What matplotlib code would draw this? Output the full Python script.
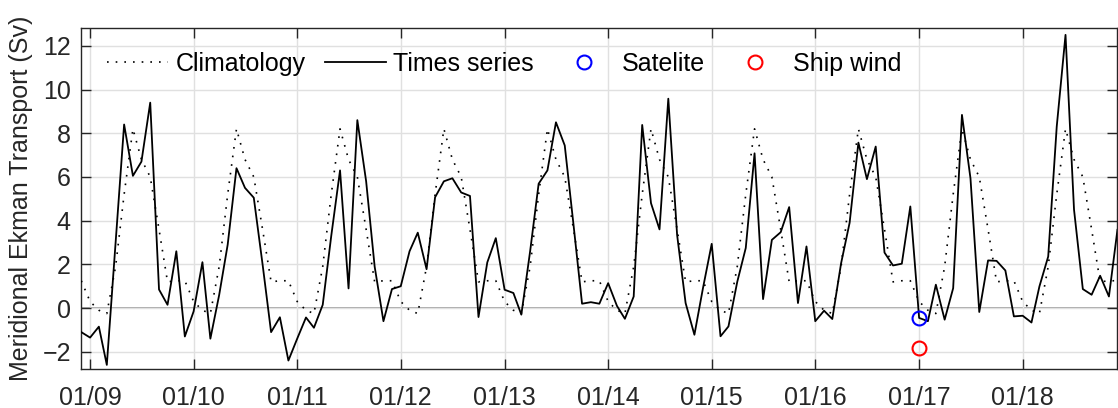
import numpy as np
import pandas as pd
import matplotlib
matplotlib.use("Agg")
import matplotlib.pyplot as plt
import matplotlib.dates as mdates

plt.rcParams['font.family'] = ['Liberation Sans', 'DejaVu Sans']

# Monthly dates Dec 2008 .. Dec 2018
dates = pd.date_range("2008-12-01", "2018-12-01", freq="MS")

# Monthly time series (Sv)
series = [
    -1.1,
    -1.35, -0.85, -2.6, 3.0, 8.4, 6.05, 6.7, 9.4, 0.85, 0.15, 2.6, -1.3,
    -0.15, 2.1, -1.4, 0.6, 2.9, 6.4, 5.5, 5.05, 2.0, -1.1, -0.42, -2.4,
    -1.4, -0.43, -0.9, 0.15, 3.3, 6.3, 0.9, 8.6, 5.8, 1.9, -0.6, 0.87,
    1.0, 2.6, 3.45, 1.78, 5.07, 5.8, 5.94, 5.29, 5.13, -0.41, 2.09, 3.2,
    0.84, 0.69, -0.3, 2.6, 5.69, 6.3, 8.5, 7.44, 3.8, 0.2, 0.27, 0.2,
    1.14, 0.1, -0.49, 0.53, 8.38, 4.8, 3.6, 9.58, 3.35, 0.23, -1.22, 0.9,
    2.94, -1.29, -0.84, 1.2, 2.75, 7.08, 0.41, 3.12, 3.47, 4.62, 0.23, 2.82,
    -0.6, -0.12, -0.5, 2.05, 3.9, 7.57, 5.9, 7.39, 2.54, 1.95, 2.03, 4.65,
    -0.45, -0.6, 1.07, -0.53, 0.91, 8.84, 5.94, -0.18, 2.18, 2.16, 1.72, -0.38,
    -0.35, -0.66, 0.99, 2.36, 8.3, 12.5, 4.5, 0.87, 0.61, 1.48, 0.53, 3.58,
]

# Climatology: monthly mean (Jan..Dec), repeated each year
clim_months = [0.3, -0.1, -0.25, 1.9, 5.2, 8.2, 6.8, 6.0, 3.6, 1.2, 1.25, 1.25]
climatology = [clim_months[d.month - 1] for d in dates]

# Single observations
sat_date = pd.Timestamp("2017-01-01")
sat_value = -0.45
ship_date = pd.Timestamp("2017-01-01")
ship_value = -1.83

tick_dates = pd.date_range("2009-01-01", "2018-01-01", freq="YS")

FS = 18

fig = plt.figure(figsize=(11.18, 4.08), dpi=100)
ax = fig.add_axes([0.0727, 0.0949, 0.9268, 0.8357])

ax.grid(True, color='0.88', lw=1.0, zorder=0)
ax.axhline(0, color='0.62', lw=1.3, zorder=1)

ax.plot(dates, climatology, color='black', lw=1.2, linestyle=(0, (1, 4.2)),
        label='Climatology', zorder=3)
ax.plot(dates, series, color='black', lw=1.3, label='Times series', zorder=4)
ax.plot([sat_date], [sat_value], 'o', mfc='none', mec='blue', mew=1.5, ms=10,
        label='Satelite', zorder=5)
ax.plot([ship_date], [ship_value], 'o', mfc='none', mec='red', mew=1.5, ms=10,
        label='Ship wind', zorder=5)

ax.set_xlim(pd.Timestamp("2008-12-01"), pd.Timestamp("2018-12-01"))
ax.set_ylim(-2.8, 12.8)
ax.set_xticks(tick_dates)
ax.xaxis.set_major_formatter(mdates.DateFormatter("%m/%y"))
ax.set_yticks(np.arange(-2, 13, 2))

ax.tick_params(direction='in', length=7, width=1.0, labelsize=FS,
               colors='0.15', top=True, right=True)
ax.tick_params(axis='x', pad=12)
ax.tick_params(axis='y', pad=7.5)
for s in ax.spines.values():
    s.set_color('0.15')
    s.set_linewidth(1.0)

ax.set_ylabel('Meridional Ekman Transport (Sv)', fontsize=FS, color='0.15',
              labelpad=7)

leg = ax.legend(ncol=4, loc='center left', bbox_to_anchor=(0.0248, 0.895),
                frameon=False, fontsize=FS, handlelength=2.44,
                handletextpad=0.3, columnspacing=0.78, borderaxespad=0,
                borderpad=0)

fig.savefig("out.png", dpi=100)
